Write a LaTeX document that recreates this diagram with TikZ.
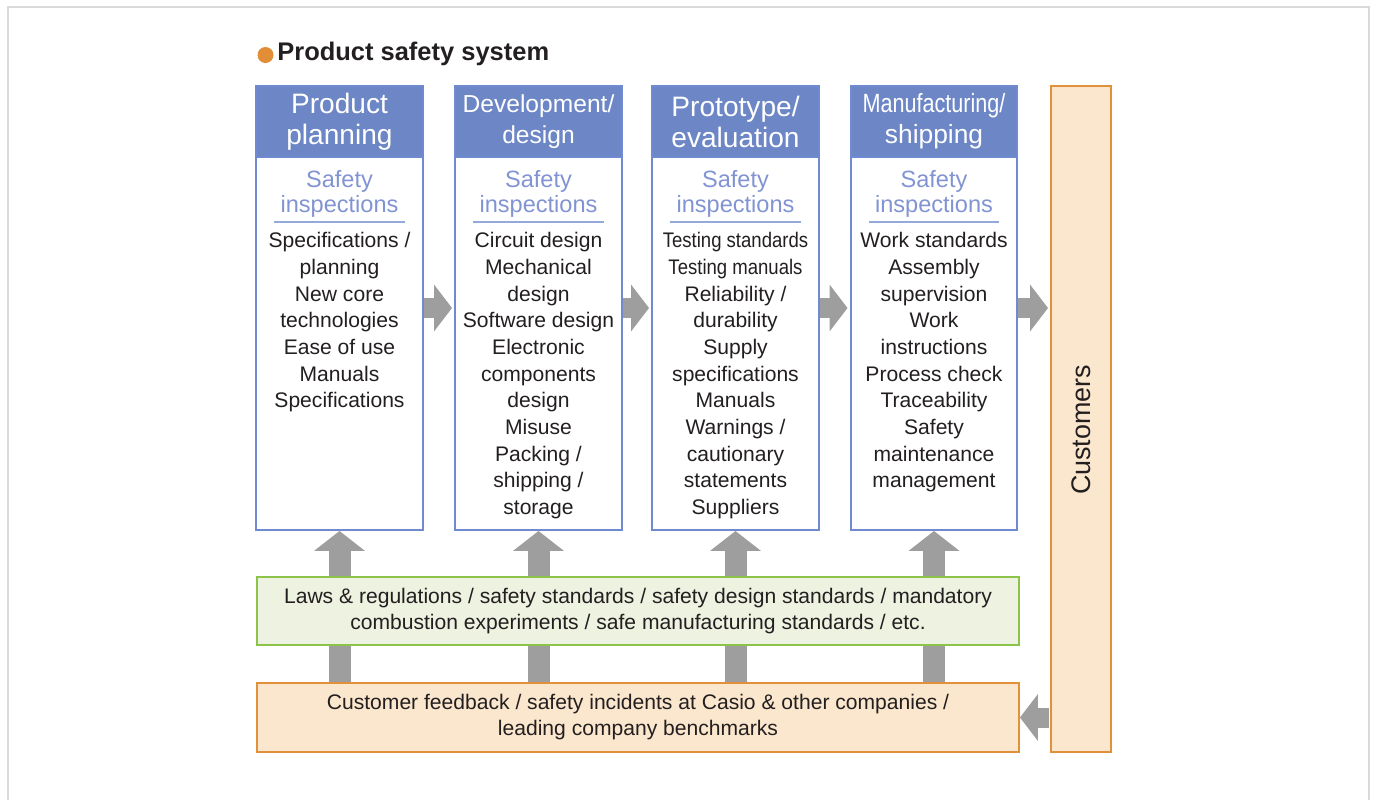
\documentclass[tikz,border=0pt]{standalone}
\usepackage{fontspec}
\setmainfont{Liberation Sans}
\newfontfamily\narrowfont[FakeStretch=0.82]{Liberation Sans}
\newfontfamily\bodynarrow[FakeStretch=0.88]{Liberation Sans}
\usetikzlibrary{arrows.meta}

\definecolor{headblue}{HTML}{6C86C6}
\definecolor{boxblue}{HTML}{6F8AD0}
\definecolor{safeblue}{HTML}{8193D2}
\definecolor{ruleblue}{HTML}{93AADA}
\definecolor{orangeline}{HTML}{E0913A}
\definecolor{orangefill}{HTML}{FBE7CD}
\definecolor{greenline}{HTML}{8CC44A}
\definecolor{greenfill}{HTML}{EEF2E1}
\definecolor{arrowgray}{HTML}{9E9E9E}
\definecolor{dotorange}{HTML}{E28E37}
\definecolor{framegray}{HTML}{D9D9D9}
\definecolor{textdark}{HTML}{231F20}

\tikzset{
  column/.style={draw=boxblue, line width=0.04cm, minimum width=3.34cm, minimum height=8.88cm, inner sep=0pt},
  head/.style={draw=boxblue, fill=headblue, line width=0.04cm, minimum width=3.34cm, minimum height=1.42cm, inner sep=0pt, text=white, align=center, font=\fontsize{16}{17.6}\selectfont},
  safe/.style={text=safeblue, align=center, text width=2.6cm, inner xsep=0pt, inner ysep=0.09cm, font=\fontsize{13.4}{14.2}\selectfont},
  items/.style={text=textdark, align=center, inner sep=0pt, font=\fontsize{12}{15.2}\selectfont},
  widebox/.style={line width=0.04cm, minimum width=15.24cm, minimum height=1.37cm, inner sep=0pt, text=textdark, align=center, font=\fontsize{12}{14.8}\selectfont},
  blockarrow/.style={draw=arrowgray, line width=0.4cm, -{Triangle[width=0.92cm, length=0.36cm]}},
  uparrow/.style={draw=arrowgray, line width=0.44cm, -{Triangle[width=1.0cm, length=0.4cm]}},
  shaft/.style={draw=arrowgray, line width=0.44cm}
}

\begin{document}
\begin{tikzpicture}[x=0.02cm, y=-0.02cm]
\useasboundingbox (0,0) rectangle (1375,799);

% outer frame
\draw[framegray, line width=0.04cm] (8,802) -- (8,7) -- (1369,7) -- (1369,802);

% title
\node (dot) at (265.5,55) [circle, fill=dotorange, inner sep=0pt, minimum size=0.32cm] {};
\node (title) at (277,54) [anchor=west, inner sep=0pt, text=textdark, font=\bfseries\fontsize{14.5}{16}\selectfont] {Product safety system};

% Product planning
\node (plan) at (339.5,308) [column] {};
\node (planhead) at (plan.north) [anchor=north, head] {Product\\planning};
\node (plansafe) at (339.5,222) [anchor=south, safe] {Safety\\inspections};
\draw[ruleblue, line width=0.03cm] (plansafe.south west) -- (plansafe.south east);
\node (planlist) at (339.5,232) [anchor=north, items] {Specifications /\\planning\\New core\\technologies\\Ease of use\\Manuals\\Specifications};

% Development / design
\node (dev) at (538.5,308) [column] {};
\node (devhead) at (dev.north) [anchor=north, head, font=\fontsize{14}{17.6}\selectfont] {Development/\\design};
\node (devsafe) at (538.5,222) [anchor=south, safe] {Safety\\inspections};
\draw[ruleblue, line width=0.03cm] (devsafe.south west) -- (devsafe.south east);
\node (devlist) at (538.5,232) [anchor=north, items] {Circuit design\\Mechanical\\design\\Software design\\Electronic\\components\\design\\Misuse\\Packing /\\shipping /\\storage};

% Prototype / evaluation
\node (proto) at (735.5,308) [column] {};
\node (protohead) at (proto.north) [anchor=north, head] {Prototype/\\evaluation};
\node (protosafe) at (735.5,222) [anchor=south, safe] {Safety\\inspections};
\draw[ruleblue, line width=0.03cm] (protosafe.south west) -- (protosafe.south east);
\node (protolist) at (735.5,232) [anchor=north, items] {{\bodynarrow Testing standards}\\{\bodynarrow Testing manuals}\\Reliability /\\durability\\Supply\\specifications\\Manuals\\Warnings /\\cautionary\\statements\\Suppliers};

% Manufacturing / shipping
\node (manu) at (934,308) [column] {};
\node (manuhead) at (manu.north) [anchor=north, head, font=\fontsize{15}{17.6}\selectfont] {{\narrowfont Manufacturing/}\\shipping};
\node (manusafe) at (934,222) [anchor=south, safe] {Safety\\inspections};
\draw[ruleblue, line width=0.03cm] (manusafe.south west) -- (manusafe.south east);
\node (manulist) at (934,232) [anchor=north, items] {Work standards\\Assembly\\supervision\\Work\\instructions\\Process check\\Traceability\\Safety\\maintenance\\management};

% Customers
\node (cust) at (1081,419) [draw=orangeline, fill=orangefill, line width=0.04cm, minimum width=1.2cm, minimum height=13.32cm] {};
\node (custlabel) at (1081,430) [rotate=90, text=textdark, font=\fontsize{15.3}{17}\selectfont] {Customers};

% standards and feedback
\node (laws) at (638,611) [widebox, draw=greenline, fill=greenfill] {Laws \& regulations / safety standards / safety design standards / mandatory\\combustion experiments / safe manufacturing standards / etc.};
\node (feedback) at (638,717.5) [widebox, draw=orangeline, fill=orangefill] {Customer feedback / safety incidents at Casio \& other companies /\\leading company benchmarks};

% arrows to the right
\draw[blockarrow, shorten >=0.04cm] (plan.east) -- (dev.west);
\draw[blockarrow, shorten >=0.04cm] (dev.east) -- (proto.west);
\draw[blockarrow, shorten >=0.04cm] (proto.east) -- (manu.west);
\draw[blockarrow, shorten >=0.04cm] (manu.east) -- (manu.east -| cust.west);
\draw[blockarrow, shorten <=0.02cm] (cust.west |- feedback.east) -- (feedback.east);

% arrows upwards
\draw[uparrow] (laws.north -| plan.south) -- (plan.south);
\draw[uparrow] (laws.north -| dev.south) -- (dev.south);
\draw[uparrow] (laws.north -| proto.south) -- (proto.south);
\draw[uparrow] (laws.north -| manu.south) -- (manu.south);
\draw[shaft] (feedback.north -| plan.south) -- (laws.south -| plan.south);
\draw[shaft] (feedback.north -| dev.south) -- (laws.south -| dev.south);
\draw[shaft] (feedback.north -| proto.south) -- (laws.south -| proto.south);
\draw[shaft] (feedback.north -| manu.south) -- (laws.south -| manu.south);

\end{tikzpicture}
\end{document}
